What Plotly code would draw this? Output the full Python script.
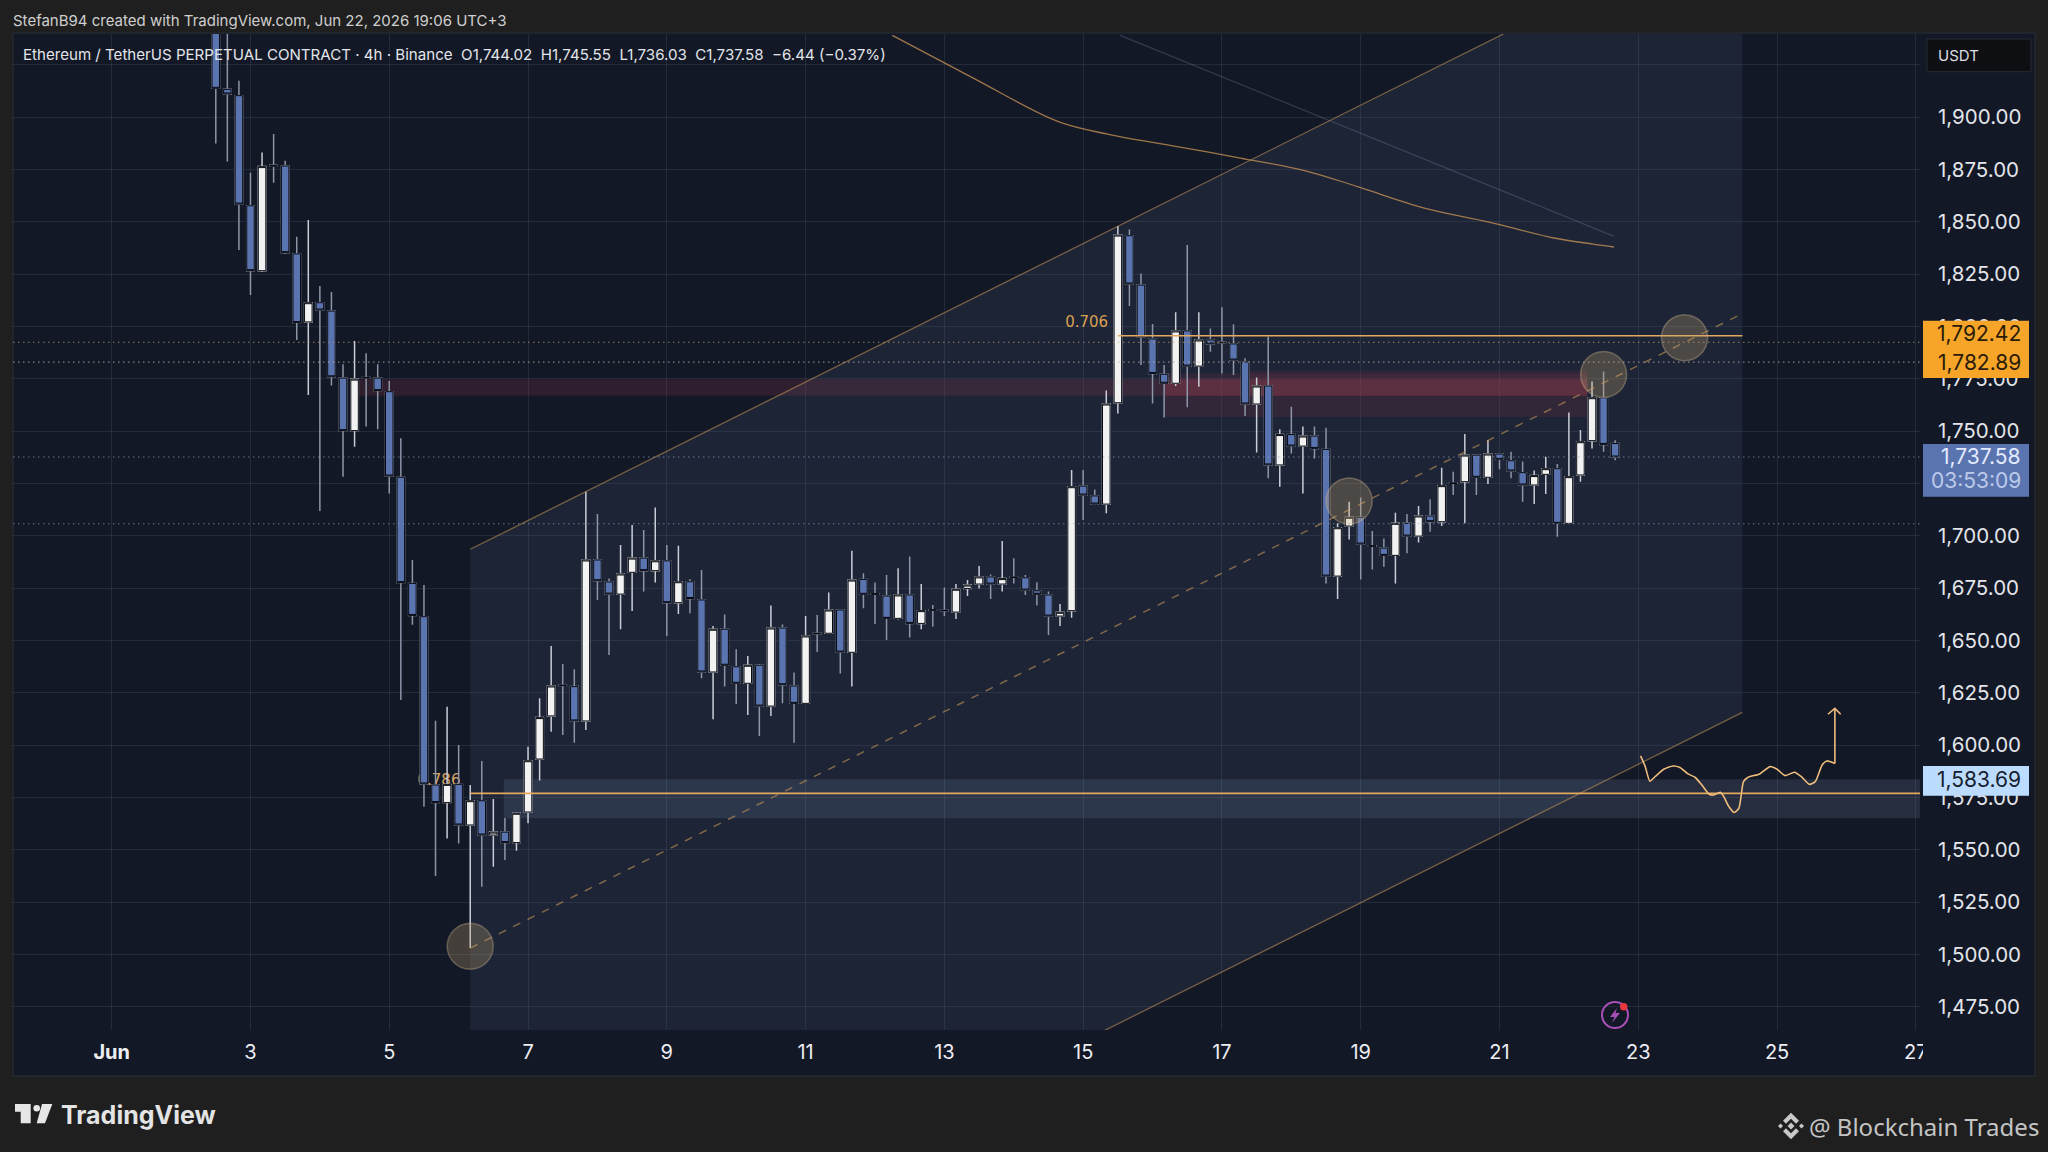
import numpy as np
import pandas as pd
import plotly.graph_objects as go

# Candles, 4h bars, first visible bar is bar 9 after Jun 1 00:00
primeira_barra = 9
opens = [1950, 1913.2, 1910.2, 1857.6, 1826.6, 1876.9, 1876.6, 1834.6, 1802.1, 1811.3, 1807.3, 1775.3, 1750.2, 1775.6, 1775.3, 1768.8,
         1727.9, 1677.2, 1661.3, 1580.9, 1572.5, 1581.2, 1561.8, 1573.4, 1557, 1558.4, 1553.4, 1568, 1593.3, 1613.9, 1628.6, 1627.9,
         1611.5, 1688.4, 1677.9, 1672.1, 1682.5, 1689.3, 1683.3, 1688, 1668, 1678, 1669.3, 1634.9, 1655.3, 1637.4, 1629.5, 1638.1,
         1618.6, 1655.9, 1628.2, 1619.9, 1653.4, 1653.4, 1664.5, 1644.3, 1679.1, 1672.3, 1671.2, 1660.5, 1671.7, 1658.1, 1664.6, 1664.4,
         1663.5, 1674.8, 1676.9, 1680.3, 1676.9, 1680.2, 1679.9, 1673.7, 1671.7, 1661.6, 1664.2, 1723.7, 1719, 1715.1, 1763.5, 1843.3,
         1819.7, 1794, 1777.1, 1772.8, 1797.8, 1781, 1793.5, 1792.4, 1791.6, 1783, 1762.9, 1771.5, 1733.8, 1748.3, 1742.8, 1747.6,
         1741.2, 1680.7, 1704.6, 1708.8, 1695.2, 1694.1, 1690.6, 1705.9, 1699.8, 1709.4, 1706.7, 1725.2, 1725.8, 1738.5, 1727.9, 1739,
         1735.8, 1730.1, 1724.2, 1729.3, 1732, 1705.9, 1729, 1745.4, 1765.9, 1744.02]
highs = [1955, 1945, 1917.3, 1873.4, 1883.1, 1891.9, 1879.1, 1842.8, 1850.8, 1819.3, 1816.4, 1781.9, 1793, 1787.1, 1781.9, 1773.9,
         1746.5, 1688.4, 1676.4, 1611.6, 1618.3, 1600, 1580.9, 1592.4, 1574.2, 1565.1, 1567.6, 1599.2, 1622.3, 1647.3, 1638.7, 1636.2,
         1721, 1710.4, 1679.6, 1695.5, 1705.1, 1702.7, 1713.5, 1695.5, 1695.2, 1679.2, 1683.6, 1656.9, 1662.4, 1645.7, 1642.5, 1638.7,
         1666.7, 1657.6, 1634.7, 1661.6, 1662.1, 1672.9, 1664.8, 1692.8, 1682, 1677.6, 1681.2, 1684.4, 1690, 1676.9, 1666.9, 1675.3,
         1676.9, 1678.8, 1685.5, 1681.5, 1697.5, 1689.2, 1681.2, 1677.7, 1673.3, 1667.4, 1731.4, 1731.4, 1722.1, 1769.3, 1847.9, 1846.3,
         1825.3, 1801.1, 1781.5, 1806.7, 1838.9, 1806.7, 1799, 1809.1, 1801, 1784.7, 1775.6, 1795.1, 1750.8, 1761.6, 1752.1, 1752.1,
         1751.6, 1705.9, 1716.2, 1718.3, 1702.2, 1698.7, 1711, 1710.3, 1714.2, 1717.4, 1732.5, 1730.6, 1748.6, 1738.6, 1745.7, 1739,
         1740.1, 1735.4, 1731.1, 1737.7, 1734.2, 1758.8, 1750.5, 1773.6, 1778.4, 1745.55]
lows = [1887.4, 1878.7, 1836.5, 1815, 1826, 1868.6, 1834.6, 1793.5, 1767.2, 1711.8, 1771.7, 1728.2, 1742.5, 1752.1, 1750.8, 1720.2,
        1621.5, 1657.5, 1570.5, 1537.4, 1555.4, 1553, 1503, 1532.3, 1541.9, 1545.1, 1549.5, 1562.6, 1583, 1606.4, 1604.8, 1601.1,
        1607.2, 1669.3, 1643, 1655.3, 1664, 1673.3, 1677.6, 1652.1, 1662.6, 1662.9, 1631.9, 1612.3, 1627.9, 1619.6, 1614.3, 1604.3,
        1613.9, 1619.9, 1601.1, 1619.6, 1644.4, 1653, 1634.2, 1628, 1665.3, 1657.8, 1650.2, 1660, 1651.4, 1655.3, 1656.5, 1661.6,
        1660.2, 1671.2, 1674.8, 1669.8, 1673.3, 1677.2, 1671.7, 1666.7, 1652.6, 1656.9, 1660.8, 1707.5, 1714.8, 1710.7, 1758.4, 1809.7,
        1781.5, 1763.2, 1756.5, 1771.5, 1761.3, 1771.2, 1787.9, 1777.5, 1776.8, 1757.2, 1739.7, 1727.4, 1723.4, 1739.3, 1720.2, 1736.9,
        1677.2, 1669.8, 1698.2, 1679.1, 1683.9, 1685.2, 1677.2, 1691.6, 1696.8, 1701.9, 1704.6, 1719.4, 1705.9, 1719.4, 1724.7, 1731.7,
        1727.4, 1716.2, 1715.1, 1719.9, 1699.5, 1705.6, 1725.8, 1741.7, 1740.1, 1736.03]
closes = [1913.7, 1911, 1858.4, 1826.6, 1876.3, 1876.6, 1835.2, 1801.8, 1811.3, 1807.8, 1775.9, 1750.2, 1774.8, 1775.4, 1769.3, 1728.5,
          1677.6, 1661.9, 1581.4, 1572.5, 1581.2, 1561.8, 1573.4, 1557, 1558.4, 1553.4, 1567.4, 1592.5, 1613.1, 1628.2, 1628.4, 1611.5,
          1688.4, 1678.5, 1672.1, 1681.7, 1689.3, 1683.3, 1688, 1668, 1678, 1670, 1634.9, 1655.3, 1638.1, 1629.5, 1638.1, 1618.6,
          1655.9, 1628.8, 1619.9, 1652.1, 1653.2, 1664.5, 1644.4, 1678.8, 1672, 1672.1, 1660.5, 1671.7, 1658.1, 1664.2, 1664.5, 1664.2,
          1674.4, 1676.4, 1680.3, 1676.9, 1679.5, 1680.1, 1674, 1672, 1661.6, 1663.4, 1723.4, 1719.4, 1715.1, 1762.9, 1843.6, 1820.2,
          1795, 1777.5, 1772.8, 1797.8, 1781, 1793.5, 1791.6, 1792.2, 1783.9, 1762.9, 1771.5, 1733.8, 1748.3, 1742.8, 1747.6, 1741.7,
          1680.7, 1703.8, 1708.8, 1696, 1695, 1690.6, 1705.9, 1699.8, 1709.4, 1706.7, 1723.9, 1725, 1738.5, 1727.9, 1739, 1736.5,
          1730.9, 1724.2, 1728.7, 1732, 1705.9, 1728.2, 1744.9, 1765.9, 1743.6, 1737.58]

# Levels
precos_eixo = [1475, 1500, 1525, 1550, 1575, 1600, 1625, 1650, 1675, 1700, 1725, 1750, 1775, 1800, 1825, 1850, 1875, 1900, 1925]
dias_eixo = list(range(1, 28, 2))
rotulos_dias = ['<b>Jun</b>'] + [str(d) for d in dias_eixo[1:]]

fib_786 = 1576.9
fib_706 = 1795.5
pontilhadas = [1792.42, 1782.89, 1737.58, 1705.7]
cores_pontilhadas = ['rgba(190,165,120,0.75)', 'rgba(190,180,160,0.7)', 'rgba(150,165,200,0.65)', 'rgba(150,165,200,0.65)']

# Moving averages and channel, bar position / price
ma_barra = [67.5, 74.5, 81.8, 86.3, 92, 97.6, 103.3, 107.8, 113.5, 119.1, 124.7, 128.1, 129.9]
ma_preco = [1939, 1918.6, 1897.9, 1891.6, 1886, 1880.4, 1874.2, 1866.6, 1856.5, 1849.8, 1842.2, 1839.3, 1837.9]
ma2_barra = [87.2, 129.9]
ma2_preco = [1939, 1843]
canal_barra = [31, 141]
canal_topo = [1693.5, 1996.6]
canal_meio = [1503, 1806.1]
canal_base = [1312.5, 1615.6]
circulo_barra = [31, 107, 129, 136]
circulo_preco = [1503.9, 1716.6, 1777, 1794.6]

# Projected path drawn by hand on the chart
seta_barra = [132.2, 132.6, 133.0, 133.4, 134.2, 135.0, 135.6, 136.3, 136.9, 137.5, 138.1, 138.5, 139.1, 139.4, 139.8, 140.3,
              140.7, 140.9, 141.1, 141.5, 142.5, 143.4, 144.0, 144.7, 145.5, 146.1, 146.8, 147.3, 147.9, 148.3, 149.0]
seta_preco = [1594.8, 1589.7, 1582.7, 1584.6, 1588.4, 1590, 1589.3, 1586.2, 1584.6, 1580.9, 1576.6, 1576.1, 1577.4, 1575.3, 1570.9, 1567.8,
              1569.8, 1576.1, 1582.5, 1584.6, 1586.2, 1589.7, 1588.4, 1585.4, 1587, 1584.9, 1581.2, 1582.5, 1590.5, 1592.4, 1591.2]
ponta_barra = [149.0, 149.0]
ponta_preco = [1591.2, 1617.5]
cabeca_barra = [148.4, 149.0, 149.5]
cabeca_preco = [1614.7, 1617.5, 1614.7]

LARGURA, ALTURA = 2048, 1152
ESQ, DIR, TOPO, BASE = 13, 1920, 34, 1030
INICIO = pd.Timestamp('2026-06-01')
FUNDO = '#1f1f1f'
PAINEL = '#121826'
LARANJA = '#e3a95f'
AZUL = '#5a74b0'
FONTE = 'Inter'


def data(barra):
    return INICIO + pd.Timedelta(hours=4 * barra)


def datas(barras):
    return [data(b) for b in barras]


def data_path(barra):
    return data(barra).strftime('%Y-%m-%d_%H:%M:%S')


# page pixels to paper coordinates, only for the window chrome
def px(x):
    return (x - ESQ) / (DIR - ESQ)


def py(y):
    return 1 - (y - TOPO) / (BASE - TOPO)


def poligono(pontos):
    return 'M ' + ' L '.join(f'{px(x):.5f} {py(y):.5f}' for x, y in pontos) + ' Z'


def caixa(x0, y0, x1, y1, cor, linha=None, camada='above'):
    fig.add_shape(type='rect', xref='paper', yref='paper', x0=px(x0), x1=px(x1), y0=py(y0), y1=py(y1),
                  fillcolor=cor, line=dict(color=linha or cor, width=1 if linha else 0), layer=camada)


def desenho(pontos, cor):
    fig.add_shape(type='path', xref='paper', yref='paper', path=poligono(pontos), fillcolor=cor, line_width=0, layer='above')


def texto(x, y, t, cor, tam, ancora='left', fonte=FONTE):
    fig.add_annotation(xref='paper', yref='paper', x=px(x), y=py(y), text=t, showarrow=False, xanchor=ancora, yanchor='middle',
                       font=dict(color=cor, size=tam, family=fonte), borderpad=0, borderwidth=0)


def zona(b0, b1, p0, p1, cor):
    fig.add_shape(type='rect', xref='x', yref='y', layer='between', x0=b0, x1=b1, y0=p0, y1=p1, fillcolor=cor, line_width=0)


barras = np.arange(primeira_barra, primeira_barra + len(opens))
x_barras = datas(barras)
corpo_alto = np.maximum(opens, closes)
corpo_baixo = np.minimum(opens, closes)
x_min = data((ESQ - 111.7) / 11.565)
x_max = data((DIR - 111.7) / 11.565)

fig = go.Figure()

# Price label that the candles cover
fig.add_trace(go.Scatter(x=[data(28.3)], y=[1582.9], mode='text', text=['0.786'], textfont=dict(color='#d7a765', size=15, family='DejaVu Sans'),
                         hoverinfo='skip', showlegend=False, zorder=-1))

# Wicks underneath, bodies with dark outline on top
fig.add_trace(go.Candlestick(x=x_barras, open=opens, high=highs, low=lows, close=closes, whiskerwidth=0,
                             increasing=dict(line=dict(color='#c9cdd6', width=1.5), fillcolor='#c9cdd6'),
                             decreasing=dict(line=dict(color='#8d95a8', width=1.5), fillcolor='#8d95a8'),
                             hoverinfo='skip', showlegend=False, zorder=0))
fig.add_trace(go.Candlestick(x=x_barras, open=opens, high=corpo_alto, low=corpo_baixo, close=closes, whiskerwidth=0,
                             increasing=dict(line=dict(color='#080a10', width=1), fillcolor='#f2f2f2'),
                             decreasing=dict(line=dict(color='#080a10', width=1), fillcolor=AZUL),
                             hoverinfo='skip', showlegend=False, zorder=0))

# Lines over the candles
fig.add_trace(go.Scatter(x=datas(ma_barra), y=ma_preco, mode='lines', line=dict(color='rgba(205,150,85,0.75)', width=1.3, shape='spline'), showlegend=False, hoverinfo='skip', zorder=1))
fig.add_trace(go.Scatter(x=datas(ma2_barra), y=ma2_preco, mode='lines', line=dict(color='rgba(130,140,165,0.3)', width=1.2), showlegend=False, hoverinfo='skip', zorder=1))
fig.add_trace(go.Scatter(x=datas(canal_barra), y=canal_topo, mode='lines', line=dict(color='rgba(185,140,85,0.6)', width=1.3), showlegend=False, hoverinfo='skip', zorder=1))
fig.add_trace(go.Scatter(x=datas(canal_barra), y=canal_base, mode='lines', line=dict(color='rgba(185,140,85,0.6)', width=1.3), showlegend=False, hoverinfo='skip', zorder=1))
fig.add_trace(go.Scatter(x=datas(canal_barra), y=canal_meio, mode='lines', line=dict(color='rgba(185,140,85,0.65)', width=1.5, dash='8px,8px'), showlegend=False, hoverinfo='skip', zorder=1))
fig.add_trace(go.Scatter(x=[data(31), x_max], y=[fib_786, fib_786], mode='lines', line=dict(color=LARANJA, width=1.6), showlegend=False, hoverinfo='skip', zorder=1))
fig.add_trace(go.Scatter(x=[data(87), data(141)], y=[fib_706, fib_706], mode='lines', line=dict(color=LARANJA, width=1.6), showlegend=False, hoverinfo='skip', zorder=1))
fig.add_trace(go.Scatter(x=datas(seta_barra), y=seta_preco, mode='lines', line=dict(color='#eebc7c', width=1.6, shape='spline', smoothing=0.6), showlegend=False, hoverinfo='skip', zorder=1))
fig.add_trace(go.Scatter(x=datas(ponta_barra), y=ponta_preco, mode='lines', line=dict(color='#eebc7c', width=1.6), showlegend=False, hoverinfo='skip', zorder=1))
fig.add_trace(go.Scatter(x=datas(cabeca_barra), y=cabeca_preco, mode='lines', line=dict(color='#eebc7c', width=1.6), showlegend=False, hoverinfo='skip', zorder=1))
fig.add_trace(go.Scatter(x=datas(circulo_barra), y=circulo_preco, mode='markers',
                         marker=dict(size=46, color='rgba(205,170,115,0.27)', line=dict(color='rgba(215,190,145,0.35)', width=1.5)),
                         showlegend=False, hoverinfo='skip', zorder=2))
fig.add_trace(go.Scatter(x=[data(84.3)], y=[1801.5], mode='text', text=['0.706'], textfont=dict(color='#d9a052', size=15, family='DejaVu Sans'),
                         hoverinfo='skip', showlegend=False, zorder=2))

fig.update_layout(width=LARGURA, height=ALTURA, margin=dict(l=ESQ, r=LARGURA - DIR, t=TOPO, b=ALTURA - BASE),
                  paper_bgcolor=FUNDO, plot_bgcolor=PAINEL, hovermode=False, showlegend=False, boxgap=0.35, boxgroupgap=0,
                  font=dict(family=FONTE, color='#e3e5ea'))
fig.update_xaxes(type='date', range=[x_min, x_max], rangeslider_visible=False, showline=False, zeroline=False,
                 tickmode='array', tickvals=[INICIO + pd.Timedelta(days=d - 1) for d in dias_eixo], ticktext=rotulos_dias,
                 gridcolor='rgba(125,135,165,0.16)', gridwidth=1, tickfont=dict(size=20, color='#eceef2'), ticks='', ticklabelstandoff=8)
# 1,925 keeps its grid line, the USDT button hides the label
fig.update_yaxes(side='right', range=[1463.87, 1939.65], showline=False, zeroline=False,
                 tickmode='array', tickvals=precos_eixo, ticktext=[f'{p:,.2f}' if p < 1925 else '' for p in precos_eixo],
                 gridcolor='rgba(125,135,165,0.16)', gridwidth=1, tickfont=dict(size=20.5, color='#e3e5ea'), ticks='', ticklabelstandoff=17)

# Window frame
caixa(ESQ, 33, 2035, 1076, PAINEL, '#2a2f3b', 'below')

# Channel fill and zones, between grid and candles
fig.add_shape(type='path', xref='x', yref='y', layer='between', fillcolor='rgba(100,120,160,0.13)', line_width=0,
              path=f'M {data_path(31)} {canal_topo[0]} L {data_path(141)} {canal_topo[1]} L {data_path(141)} {canal_base[1]} L {data_path(31)} {canal_base[0]} Z')
zona(data(33.9), x_max, 1565, 1583.69, 'rgba(125,145,175,0.18)')
zona(data(21.3), data(127.6), 1766.9, 1774.7, 'rgba(135,50,70,0.25)')
zona(data(91), data(127.6), 1756.7, 1777.5, 'rgba(130,50,70,0.22)')
zona(data(91), data(127.6), 1766.9, 1774.7, 'rgba(150,65,80,0.28)')
zona(data(98), data(127.6), 1775, 1779, 'rgba(130,50,70,0.16)')

# Dotted price lines over the candles
for nivel, cor in zip(pontilhadas, cores_pontilhadas):
    fig.add_shape(type='line', xref='paper', yref='y', x0=0, x1=1, y0=nivel, y1=nivel, layer='above',
                  line=dict(color=cor, width=1.1, dash='1.5px,3.5px'))

# Cover of the last date label, the scale cuts it
caixa(1923, 1034, 2034, 1075, PAINEL)

# Scale labels
caixa(1923, 320.7, 2029, 378, '#f7a528')
caixa(1923, 444, 2029, 496.7, AZUL)
caixa(1923, 766, 2029, 795.7, '#bcdcff')
caixa(1927, 39, 2031, 71.7, '#0e0f12', '#262b36')
texto(2021, 334, '1,792.42', '#2a1c08', 21, 'right')
texto(2021, 362.7, '1,782.89', '#2a1c08', 21, 'right')
texto(2021, 457, '1,737.58', '#e3ebff', 21, 'right')
texto(2021, 480.7, '03:53:09', '#bccaea', 21, 'right')
texto(2021, 779, '1,583.69', '#16202e', 21, 'right')
texto(1938, 55, 'USDT', '#dcdee3', 15)

# Header
texto(13, 20, 'StefanB94 created with TradingView.com, Jun 22, 2026 19:06 UTC+3', '#cfcfcf', 15)
texto(23, 54, 'Ethereum / TetherUS PERPETUAL CONTRACT · 4h · Binance&nbsp;&nbsp;O1,744.02&nbsp;&nbsp;H1,745.55&nbsp;&nbsp;L1,736.03&nbsp;&nbsp;C1,737.58&nbsp;&nbsp;−6.44 (−0.37%)', '#e2e5ea', 15.1)

# Lightning badge
fig.add_shape(type='circle', xref='paper', yref='paper', x0=px(1602), x1=px(1628), y0=py(1028), y1=py(1002), fillcolor='rgba(0,0,0,0)',
              line=dict(color='#a64fb5', width=2), layer='above')
desenho([(1617, 1008), (1610, 1017), (1614.5, 1017), (1612, 1023), (1620, 1013), (1615.5, 1013)], '#a64fb5')
fig.add_shape(type='circle', xref='paper', yref='paper', x0=px(1620), x1=px(1627.4), y0=py(1010.4), y1=py(1003), fillcolor='#e8373d', line_width=0, layer='above')

# TradingView logo
desenho([(15, 1104), (30.7, 1104), (30.7, 1123.3), (20.7, 1123.3), (20.7, 1111.7), (15, 1111.7)], '#e6e6e6')
fig.add_shape(type='circle', xref='paper', yref='paper', x0=px(33.4), x1=px(40), y0=py(1111.6), y1=py(1105), fillcolor='#e6e6e6', line_width=0, layer='above')
desenho([(42, 1104), (52.3, 1104), (45, 1123.3), (36.7, 1123.3)], '#e6e6e6')
texto(61, 1115, '<b>TradingView</b>', '#e4e4e4', 25)

# Binance mark and signature
desenho([(1791, 1112.7), (1799, 1120.7), (1796, 1123.7), (1791, 1118.7), (1786, 1123.7), (1783, 1120.7)], '#c8c8c8')
desenho([(1791, 1139.3), (1799, 1131.3), (1796, 1128.3), (1791, 1133.3), (1786, 1128.3), (1783, 1131.3)], '#c8c8c8')
desenho([(1791, 1122.5), (1794.5, 1126), (1791, 1129.5), (1787.5, 1126)], '#c8c8c8')
desenho([(1780.5, 1123.5), (1783, 1126), (1780.5, 1128.5), (1778, 1126)], '#c8c8c8')
desenho([(1801.5, 1123.5), (1804, 1126), (1801.5, 1128.5), (1799, 1126)], '#c8c8c8')
texto(2039, 1126, '@ Blockchain Trades', '#c4c4c4', 24, 'right', 'Noto Sans')

# the default page keeps an 8px body margin
fig.write_html("out.html", config={'displayModeBar': False}, post_script="document.body.style.margin='0';")
